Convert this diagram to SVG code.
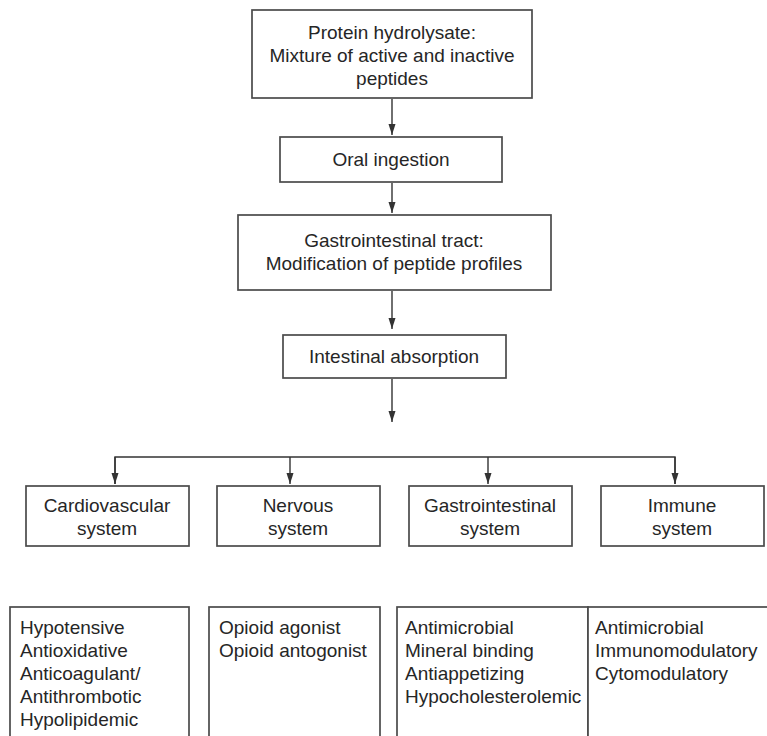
<svg xmlns="http://www.w3.org/2000/svg" width="767" height="736" viewBox="0 0 767 736">
<defs>
<style>
.box{fill:#fff;stroke:#4a4a4a;stroke-width:1.7}
.t{font-family:"Liberation Sans",Arial,sans-serif;font-size:19px;fill:#262626}
.c{text-anchor:middle}
.ln{fill:none;stroke:#333;stroke-width:1.4}
</style>
<marker id="ah" markerUnits="userSpaceOnUse" markerWidth="8" markerHeight="12" refX="3.5" refY="11" orient="auto-start-reverse" viewBox="0 0 7 12">
<path d="M0,0 L7,0 L3.5,11 Z" fill="#333" transform="rotate(0)"/>
</marker>
<marker id="a" markerUnits="userSpaceOnUse" markerWidth="12" markerHeight="8" refX="11" refY="3.5" orient="auto" viewBox="0 0 12 7">
<path d="M0,0 L11,3.5 L0,7 Z" fill="#333"/>
</marker>
</defs>
<rect width="767" height="736" fill="#fff"/>
<g id="connectors">
<line class="ln" x1="392" y1="99" x2="392" y2="135" marker-end="url(#a)"/>
<line class="ln" x1="392" y1="183" x2="392" y2="213" marker-end="url(#a)"/>
<line class="ln" x1="392" y1="291" x2="392" y2="329" marker-end="url(#a)"/>
<line class="ln" x1="392" y1="379" x2="392" y2="422" marker-end="url(#a)"/>
<polyline class="ln" points="115,484 115,457 675,457 675,484"/>
<line class="ln" x1="115" y1="457" x2="115" y2="484" marker-end="url(#a)"/>
<line class="ln" x1="290" y1="457" x2="290" y2="484" marker-end="url(#a)"/>
<line class="ln" x1="488" y1="457" x2="488" y2="484" marker-end="url(#a)"/>
<line class="ln" x1="675" y1="457" x2="675" y2="484" marker-end="url(#a)"/>
</g>
<g id="hydrolysate">
<rect class="box" x="252" y="10" width="280" height="88"/>
<text class="t c" x="392" y="39">Protein hydrolysate:</text>
<text class="t c" x="392" y="62">Mixture of active and inactive</text>
<text class="t c" x="392" y="85">peptides</text>
</g>
<g id="oral">
<rect class="box" x="280" y="137" width="222" height="45"/>
<text class="t c" x="391" y="166">Oral ingestion</text>
</g>
<g id="gitract">
<rect class="box" x="238" y="215" width="313" height="75"/>
<text class="t c" x="394" y="247">Gastrointestinal tract:</text>
<text class="t c" x="394" y="270">Modification of peptide profiles</text>
</g>
<g id="absorption">
<rect class="box" x="283" y="335" width="223" height="43"/>
<text class="t c" x="394" y="363">Intestinal absorption</text>
</g>
<g id="cardio">
<rect class="box" x="26" y="486" width="163" height="60"/>
<text class="t c" x="107" y="512">Cardiovascular</text>
<text class="t c" x="107" y="535">system</text>
</g>
<g id="nervous">
<rect class="box" x="217" y="486" width="163" height="60"/>
<text class="t c" x="298" y="512">Nervous</text>
<text class="t c" x="298" y="535">system</text>
</g>
<g id="gi">
<rect class="box" x="409" y="486" width="163" height="60"/>
<text class="t c" x="490" y="512">Gastrointestinal</text>
<text class="t c" x="490" y="535">system</text>
</g>
<g id="immune">
<rect class="box" x="601" y="486" width="163" height="60"/>
<text class="t c" x="682" y="512">Immune</text>
<text class="t c" x="682" y="535">system</text>
</g>
<g id="cardio-effects">
<rect class="box" x="10" y="607" width="179" height="150"/>
<text class="t" x="20" y="634">Hypotensive</text>
<text class="t" x="20" y="657">Antioxidative</text>
<text class="t" x="20" y="680">Anticoagulant/</text>
<text class="t" x="20" y="703">Antithrombotic</text>
<text class="t" x="20" y="726">Hypolipidemic</text>
</g>
<g id="nervous-effects">
<rect class="box" x="209" y="607" width="171" height="150"/>
<text class="t" x="219" y="634">Opioid agonist</text>
<text class="t" x="219" y="657">Opioid antogonist</text>
</g>
<g id="gi-effects">
<rect class="box" x="397" y="607" width="191" height="150"/>
<text class="t" x="405" y="634">Antimicrobial</text>
<text class="t" x="405" y="657">Mineral binding</text>
<text class="t" x="405" y="680">Antiappetizing</text>
<text class="t" x="405" y="703">Hypocholesterolemic</text>
</g>
<g id="immune-effects">
<rect class="box" x="588" y="607" width="200" height="150"/>
<text class="t" x="595" y="634">Antimicrobial</text>
<text class="t" x="595" y="657">Immunomodulatory</text>
<text class="t" x="595" y="680">Cytomodulatory</text>
</g>
</svg>
